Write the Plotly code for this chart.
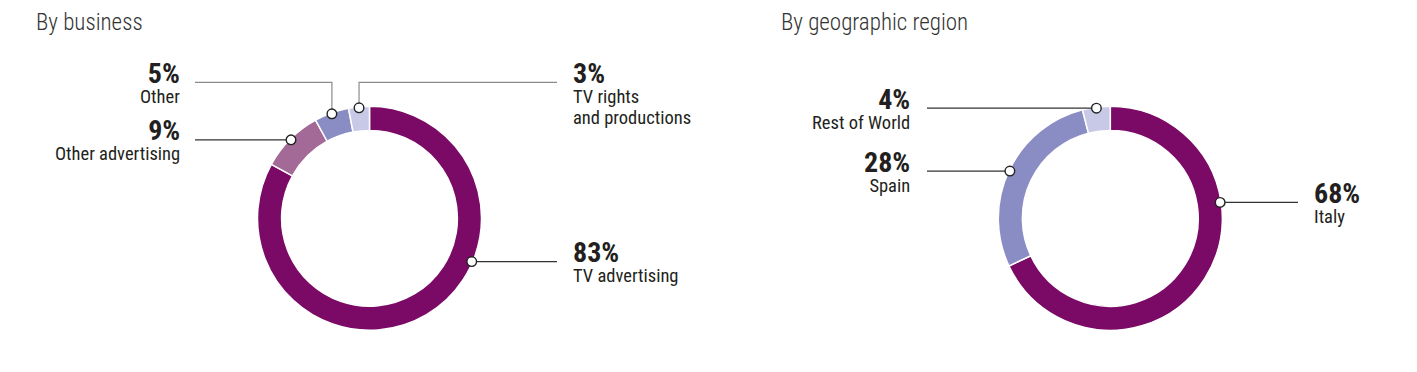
import math
import plotly.graph_objects as go

W, H = 1417, 372
OFF = 8  # page body margin; coordinates below are page pixels

# ---- data ----
biz_labels = ["TV advertising", "Other advertising", "Other", "TV rights<br>and productions"]
biz_values = [83, 9, 5, 3]
geo_labels = ["Italy", "Spain", "Rest of World"]
geo_values = [68, 28, 4]
titles = ["By business", "By geographic region"]

# ---- style ----
biz_colors = ["#7B0A66", "#A36A98", "#8A8CC4", "#C8C9E6"]
geo_colors = ["#7B0A66", "#8A8CC4", "#C8C9E6"]
FONT = "Roboto, Open Sans, sans-serif"
TXT = "#231F20"


def cond(s, size=None, bold=False):
    st = "font-stretch:condensed"
    if size:
        st += f";font-size:{size}px"
    if bold:
        st += ";font-weight:bold"
    return f"<span style='{st}'>{s}</span>"


# layout: donut centres / radius (page pixels)
donuts = [
    dict(cx=369.5, cy=218.3, r=112, labels=biz_labels, values=biz_values, colors=biz_colors,
         callouts=[dict(f=0.378, side="right", tx=571, ly=None, ex=557),
                   dict(f=0.5, side="left", tx=182, ly=None, ex=195),
                   dict(f=0.5, side="left", tx=182, ly=82.3, ex=195),
                   dict(f=0.5, side="right", tx=571, ly=82.3, ex=557)],
         title_x=35),
    dict(cx=1110.3, cy=218.3, r=112, labels=geo_labels, values=geo_values, colors=geo_colors,
         callouts=[dict(f=0.334, side="right", tx=1312, ly=None, ex=1298),
                   dict(f=0.5, side="left", tx=912, ly=None, ex=927),
                   dict(f=0.5, side="left", tx=912, ly=None, ex=927)],
         title_x=35 + 745),
]

FW, FH = W - OFF, H - OFF
fig = go.Figure()
annotations, shapes = [], []

for i, d in enumerate(donuts):
    cx, cy, r = d["cx"], d["cy"], d["r"]
    fig.add_trace(go.Pie(
        values=d["values"], labels=[l.replace("<br>", " ") for l in d["labels"]], sort=False,
        direction="clockwise", rotation=0, hole=0.785, textinfo="none", hoverinfo="label+percent",
        marker=dict(colors=d["colors"], line=dict(color="white", width=1.5)),
        domain=dict(x=[(cx - r - OFF) / FW, (cx + r - OFF) / FW],
                    y=[(H - (cy + r)) / FH, (H - (cy - r)) / FH]),
        showlegend=False,
    ))
    annotations.append(dict(x=d["title_x"] - 1, y=22, xref="x", yref="y", text=cond(titles[i]),
                            showarrow=False, xanchor="left", yanchor="middle",
                            font=dict(family=FONT, size=23, color="#333333", weight=300)))
    total = sum(d["values"])
    start = 0.0
    for lab, val, co in zip(d["labels"], d["values"], d["callouts"]):
        ang = (start + co["f"] * val) / total * 2 * math.pi
        start += val
        mx = cx + (r - 1) * math.sin(ang)
        my = cy - (r - 1) * math.cos(ang)
        ly = my if co["ly"] is None else co["ly"]
        elbow = co["ly"] is not None
        shapes.append(dict(type="path", xref="x", yref="y", layer="above",
                           path=f"M {mx:.2f} {my:.2f} L {mx:.2f} {ly:.2f} L {co['ex']:.2f} {ly:.2f}",
                           line=dict(color="#8C8C8C" if elbow else "#333333", width=1.2)))
        shapes.append(dict(type="circle", xref="x", yref="y", layer="above",
                           x0=mx - 4.8, x1=mx + 4.8, y0=my - 4.8, y1=my + 4.8,
                           fillcolor="white", line=dict(color="#222222", width=1.4)))
        anchor = "right" if co["side"] == "left" else "left"
        lines = [cond(f"{val}%", 28, True)] + [cond(p, 18.5) for p in lab.split("<br>")]
        annotations.append(dict(x=co["tx"], y=ly - 27.5, xref="x", yref="y", text="<br>".join(lines),
                                showarrow=False, xanchor=anchor, yanchor="top",
                                align="right" if co["side"] == "left" else "left",
                                font=dict(family=FONT, size=15.6, color=TXT)))

fig.update_layout(
    width=FW, height=FH, margin=dict(l=0, r=0, t=0, b=0),
    paper_bgcolor="white", plot_bgcolor="rgba(0,0,0,0)",
    xaxis=dict(range=[OFF, W], visible=False, fixedrange=True, domain=[0, 1]),
    yaxis=dict(range=[H, OFF], visible=False, fixedrange=True, domain=[0, 1]),
    annotations=annotations, shapes=shapes,
)

fig.write_html("out.html")
